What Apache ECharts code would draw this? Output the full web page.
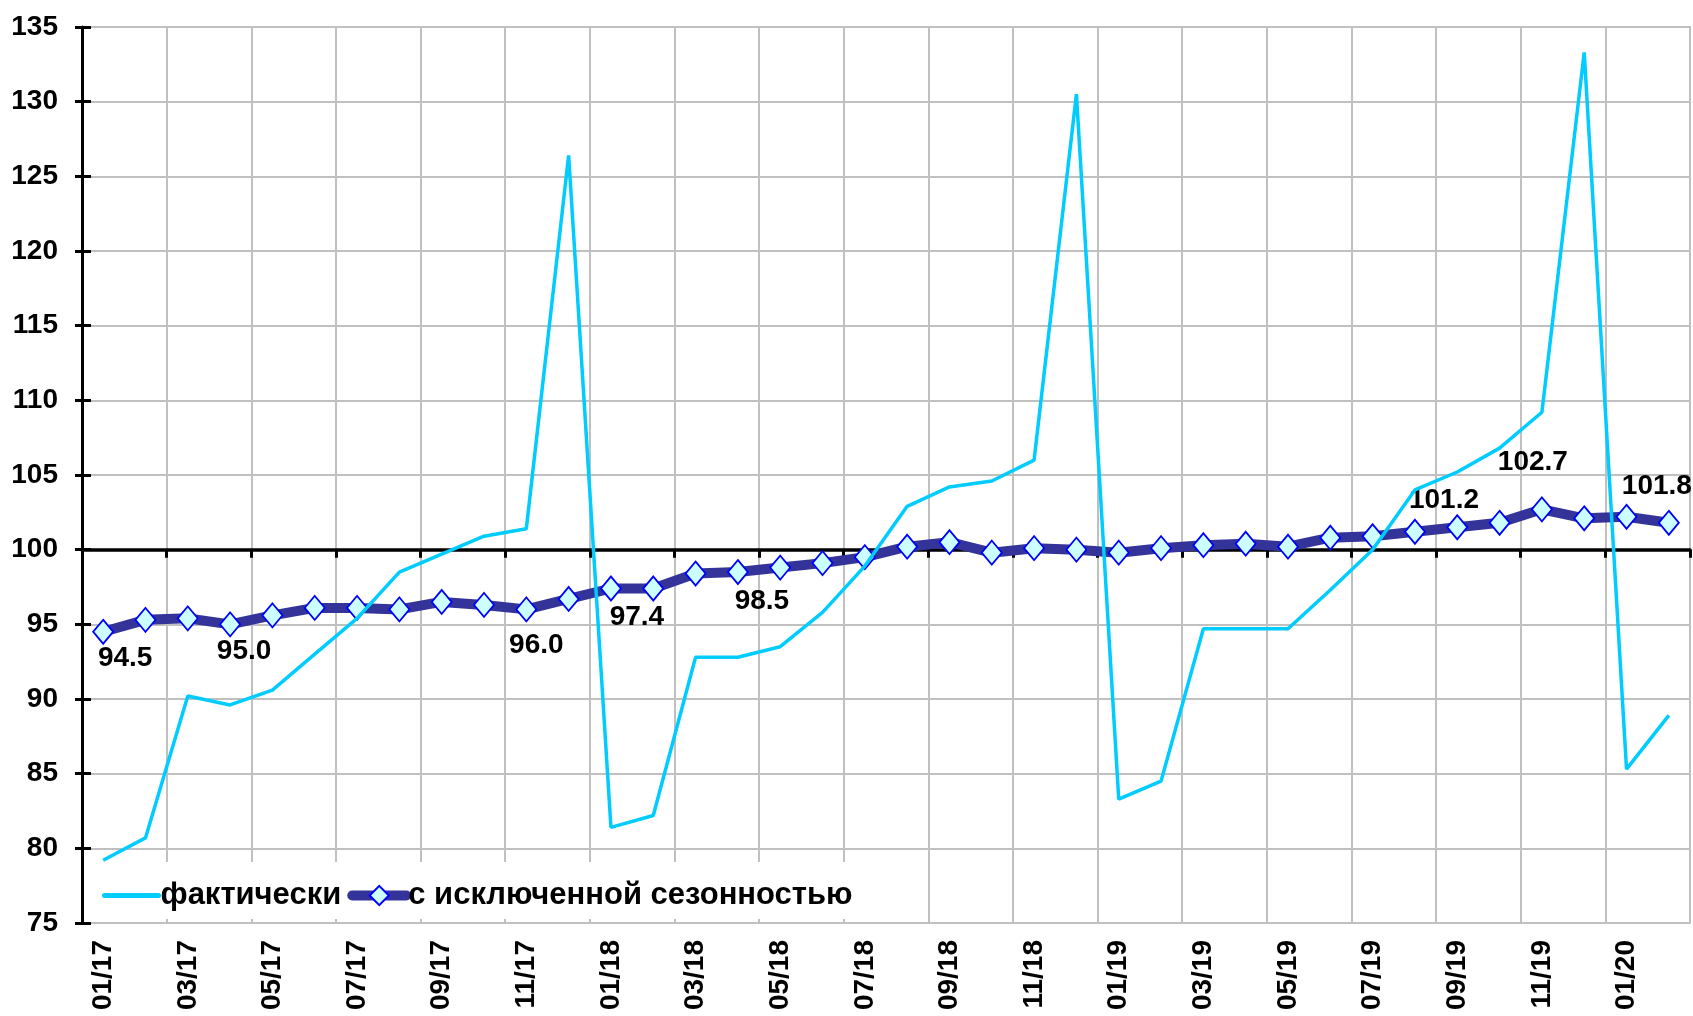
<!DOCTYPE html>
<html>
<head>
<meta charset="utf-8">
<script src="https://cdn.jsdelivr.net/npm/echarts@6/dist/echarts.min.js"></script>
<style>
html,body{margin:0;padding:0;background:#fff;}
#chart{width:1693px;height:1016px;}
</style>
</head>
<body>
<div id="chart"></div>
<script>
const categories = ['01/17','02/17','03/17','04/17','05/17','06/17','07/17','08/17','09/17','10/17','11/17','12/17',
  '01/18','02/18','03/18','04/18','05/18','06/18','07/18','08/18','09/18','10/18','11/18','12/18',
  '01/19','02/19','03/19','04/19','05/19','06/19','07/19','08/19','09/19','10/19','11/19','12/19',
  '01/20','02/20'];

const actual = [79.2, 80.7, 90.2, 89.6, 90.6, 93.0, 95.4, 98.5, 99.7, 100.9, 101.4, 126.4,
  81.4, 82.2, 92.8, 92.8, 93.5, 95.8, 98.9, 102.9, 104.2, 104.6, 106.0, 130.5,
  83.3, 84.5, 94.7, 94.7, 94.7, 97.3, 100.0, 104.0, 105.2, 106.8, 109.2, 133.3,
  85.3, 88.9];

const seasonAdj = [94.5, 95.3, 95.4, 95.0, 95.6, 96.1, 96.1, 96.0, 96.5, 96.3, 96.0, 96.7,
  97.4, 97.4, 98.4, 98.5, 98.8, 99.1, 99.5, 100.2, 100.5, 99.8, 100.1, 100.0,
  99.8, 100.1, 100.3, 100.4, 100.2, 100.8, 100.9, 101.2, 101.5, 101.8, 102.7, 102.1,
  102.2, 101.8];

const seriesNames = ['фактически', 'с исключенной сезонностью'];
const yTicks = {min: 75, max: 135, step: 5};
const refLevel = 100;

// indices of labelled points and their label offsets (styling)
const labelledIdx = [0, 3, 10, 12, 15, 31, 34, 37];
const labelOffsets = [[22,26],[14,27],[10,36],[26,29],[24,29],[29,-31],[-9,-47],[-12,-37]];

const W = 1693, H = 1016;
const gridTop = 27, gridBottom = 93, gridLeft = 82, gridRight = 3;
const plotH = H - gridTop - gridBottom;
const refOffset = -(refLevel - yTicks.min) / (yTicks.max - yTicks.min) * plotH;

const FONT = '"Liberation Sans", Arial, sans-serif';
const CYAN = '#00ccff', NAVY = '#333399';

const saData = seasonAdj.map((v, i) => {
  const k = labelledIdx.indexOf(i);
  if (k < 0) return v;
  return {
    value: v,
    label: {
      show: true, position: 'inside', offset: labelOffsets[k],
      formatter: (p) => Number(p.value).toFixed(1),
      fontFamily: FONT, fontWeight: 'bold', fontSize: 28, color: '#000'
    }
  };
});

const chart = echarts.init(document.getElementById('chart'), null, {renderer: 'canvas'});
chart.setOption({
  animation: false,
  backgroundColor: '#fff',
  grid: {
    left: gridLeft, right: gridRight, top: gridTop, bottom: gridBottom,
    show: true, borderColor: '#c0c0c0', borderWidth: 2, backgroundColor: 'transparent'
  },
  legend: {
    left: 92, top: 862,
    orient: 'horizontal',
    backgroundColor: '#fff',
    padding: [18, 10, 8, 10],
    itemGap: 6,
    itemWidth: 54, itemHeight: 24,
    textStyle: {fontFamily: FONT, fontWeight: 'bold', fontSize: 31, color: '#000', padding: [0,0,0,-3]},
    data: [
      {name: seriesNames[0], itemStyle: {opacity: 0}, lineStyle: {color: CYAN, width: 5, cap: 'round'}},
      {name: seriesNames[1], lineStyle: {color: NAVY, width: 10, cap: 'round'}}
    ]
  },
  xAxis: [
    {
      type: 'category', data: categories, boundaryGap: true, position: 'bottom',
      axisLine: {show: false},
      axisTick: {show: false},
      axisLabel: {
        interval: 1, rotate: 90, margin: 17,
        fontFamily: FONT, fontWeight: 'bold', fontSize: 28, color: '#000'
      },
      splitLine: {show: true, interval: 1, lineStyle: {color: '#c0c0c0', width: 2}}
    },
    {
      type: 'category', data: categories, boundaryGap: true, position: 'bottom',
      offset: refOffset,
      axisLine: {show: true, onZero: false, lineStyle: {color: '#000', width: 3.5}},
      axisTick: {show: true, interval: 1, length: 8, lineStyle: {color: '#000', width: 3}},
      axisLabel: {show: false},
      splitLine: {show: false}
    }
  ],
  yAxis: [
    {
      type: 'value', min: yTicks.min, max: yTicks.max, interval: yTicks.step, position: 'left',
      axisLine: {show: true, onZero: false, lineStyle: {color: '#000', width: 3}},
      axisTick: {show: true, length: 7, lineStyle: {color: '#000', width: 3}},
      axisLabel: {margin: 24, fontFamily: FONT, fontWeight: 'bold', fontSize: 28, color: '#000'},
      splitLine: {show: true, lineStyle: {color: '#c0c0c0', width: 2}}
    },
    {
      type: 'value', min: yTicks.min, max: yTicks.max, interval: yTicks.step, position: 'left',
      axisLine: {show: false},
      axisTick: {show: true, inside: true, length: 9, lineStyle: {color: '#000', width: 3}},
      axisLabel: {show: false},
      splitLine: {show: false}
    }
  ],
  series: [
    {
      name: seriesNames[0], type: 'line', data: actual,
      xAxisIndex: 0, yAxisIndex: 0,
      symbol: 'none', z: 4,
      lineStyle: {color: CYAN, width: 3.5},
      itemStyle: {color: CYAN}
    },
    {
      name: seriesNames[1], type: 'line', data: saData,
      xAxisIndex: 0, yAxisIndex: 0,
      symbol: 'diamond', symbolSize: [20, 24], showAllSymbol: true, z: 3,
      lineStyle: {color: NAVY, width: 10, cap: 'round', join: 'round'},
      itemStyle: {color: '#ccffff', borderColor: '#0000ff', borderWidth: 1.8}
    }
  ]
});
</script>
</body>
</html>
